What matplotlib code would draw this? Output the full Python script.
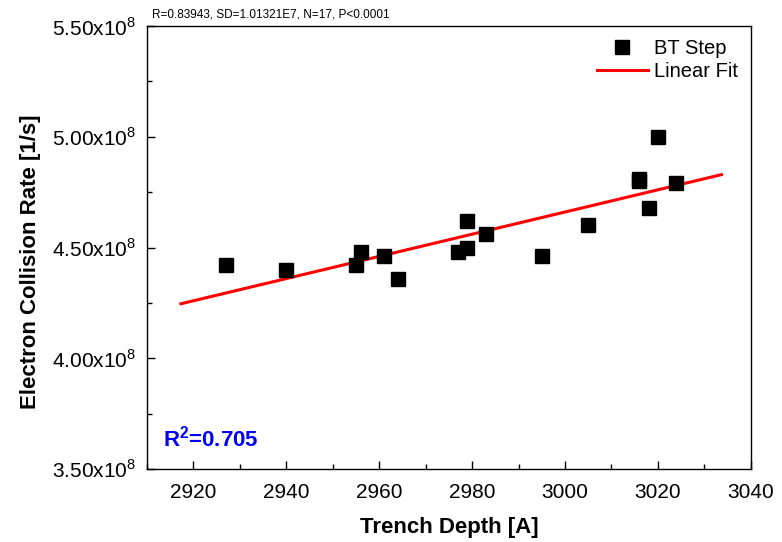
import numpy as np
import matplotlib
matplotlib.use('Agg')
import matplotlib.pyplot as plt
from matplotlib.ticker import MultipleLocator, FuncFormatter

# 字体设置 (Arial 风格)
plt.rcParams['font.family'] = ['Liberation Sans', 'DejaVu Sans']
plt.rcParams['mathtext.fontset'] = 'custom'
plt.rcParams['mathtext.rm'] = 'Liberation Sans'
plt.rcParams['mathtext.bf'] = 'Liberation Sans:bold'

# 数据
depth = [2927, 2940, 2955, 2956, 2961, 2964, 2977, 2979, 2979, 2983,
         2995, 3005, 3016, 3016, 3018, 3020, 3024]
rate = [4.42e8, 4.40e8, 4.42e8, 4.48e8, 4.46e8, 4.36e8, 4.48e8, 4.62e8, 4.50e8, 4.56e8,
        4.46e8, 4.60e8, 4.81e8, 4.80e8, 4.68e8, 5.00e8, 4.79e8]

# 拟合直线端点
fit_x = [2917.3, 3033.7]
fit_y = [4.246e8, 4.829e8]

stats_text = 'R=0.83943, SD=1.01321E7, N=17, P<0.0001'
r2_text = r'R$^\mathbf{2}$=0.705'

fig = plt.figure(figsize=(7.82, 5.42), dpi=100)
ax = fig.add_axes([0.188, 0.1347, 0.772, 0.8173])

ax.plot(depth, rate, 's', color='black', markersize=9.5, label='BT Step', zorder=3)
ax.plot(fit_x, fit_y, '-', color='red', linewidth=2.2, label='Linear Fit', zorder=2)

ax.set_xlim(2910, 3040)
ax.set_ylim(3.5e8, 5.5e8)
ax.xaxis.set_major_locator(MultipleLocator(20))
ax.xaxis.set_minor_locator(MultipleLocator(10))
ax.yaxis.set_major_locator(MultipleLocator(0.5e8))
ax.yaxis.set_minor_locator(MultipleLocator(0.25e8))
ax.yaxis.set_major_formatter(FuncFormatter(lambda v, p: f'{v/1e8:.2f}x10$^{{8}}$'))

ax.tick_params(which='both', direction='in', top=False, right=False, labelsize=15)
ax.tick_params(axis='x', which='major', length=6, width=1, pad=10)
ax.tick_params(axis='y', which='major', length=6, width=1, pad=8)
ax.tick_params(which='minor', length=3.5, width=1)
for s in ax.spines.values():
    s.set_linewidth(1)

ax.set_xlabel('Trench Depth [A]', fontsize=16, fontweight='bold', labelpad=11)
ax.set_ylabel('Electron Collision Rate [1/s]', fontsize=16, fontweight='bold')
ax.yaxis.set_label_coords(-0.175, 0.467)

ax.legend(loc='upper right', frameon=False, fontsize=14.5, handlelength=2.5,
          handletextpad=0.3, borderaxespad=0.25, labelspacing=0.2)

ax.text(0.008, 1.012, stats_text, transform=ax.transAxes, fontsize=8.5,
        ha='left', va='bottom')
ax.text(0.027, 0.04, r2_text, transform=ax.transAxes, fontsize=16,
        fontweight='bold', color='blue', ha='left', va='bottom')

plt.savefig('out.png', dpi=100)
